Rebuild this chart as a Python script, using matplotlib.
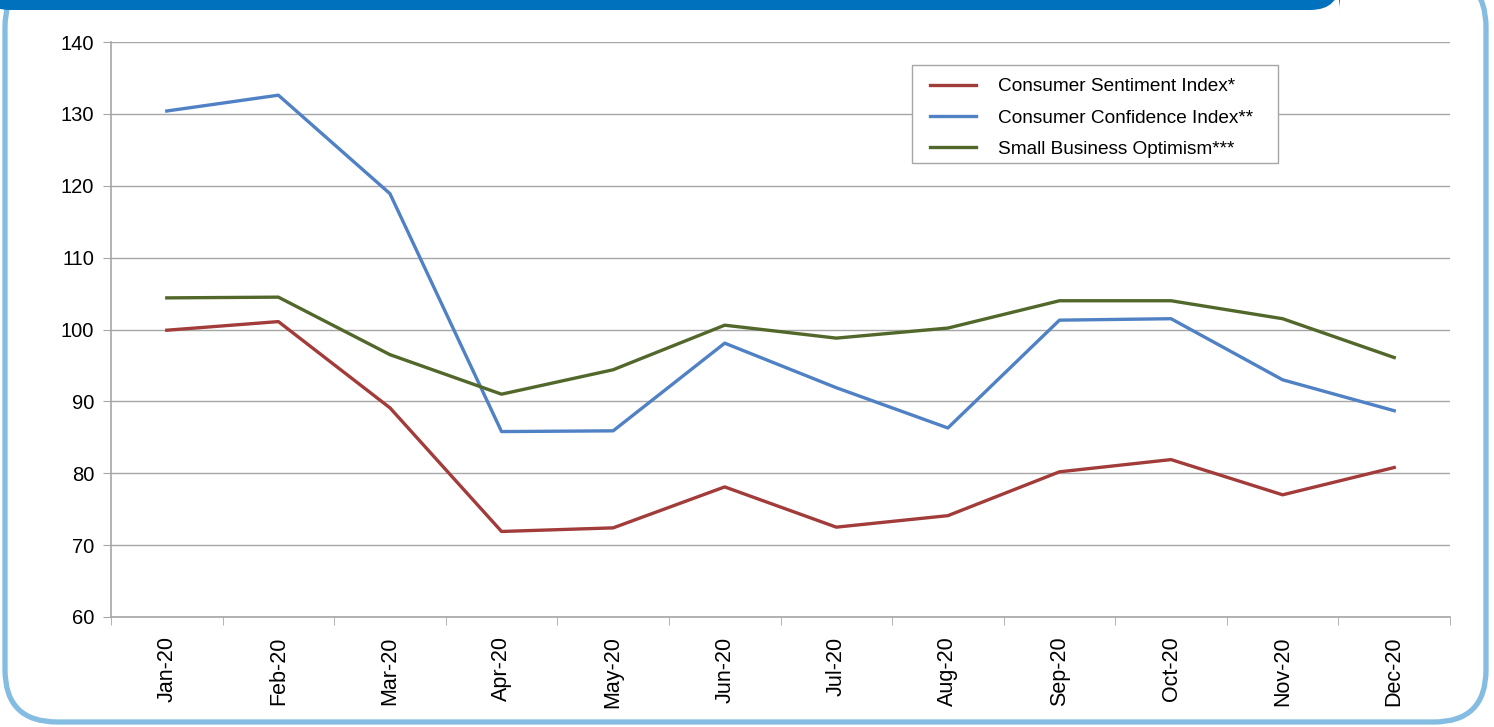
import numpy as np
import matplotlib
matplotlib.use("Agg")
import matplotlib.pyplot as plt
from matplotlib.patches import FancyBboxPatch, Rectangle

plt.rcParams['font.family'] = ['Liberation Sans', 'DejaVu Sans']

months = ['Jan-20', 'Feb-20', 'Mar-20', 'Apr-20', 'May-20', 'Jun-20',
          'Jul-20', 'Aug-20', 'Sep-20', 'Oct-20', 'Nov-20', 'Dec-20']
sentiment = [99.9, 101.1, 89.1, 71.9, 72.4, 78.1, 72.5, 74.1, 80.2, 81.9, 77.0, 80.8]
confidence = [130.4, 132.6, 118.9, 85.8, 85.9, 98.1, 91.9, 86.3, 101.3, 101.5, 93.0, 88.7]
optimism = [104.4, 104.5, 96.5, 91.0, 94.4, 100.6, 98.8, 100.2, 104.0, 104.0, 101.5, 96.1]

W, H = 1494, 727
fig = plt.figure(figsize=(W / 100, H / 100), dpi=100)

# decorative frame (top edge runs off the image, like the cropped original)
border = FancyBboxPatch((5 / W, 5 / H), (W - 10 - 3) / W, (H + 20) / H,
                        boxstyle="round,pad=0,rounding_size=0.035",
                        transform=fig.transFigure, fc='white', ec='#85BCE2',
                        lw=3.8, mutation_aspect=W / H, zorder=-10)
fig.patches.append(border)
header = FancyBboxPatch((-20 / W, (H - 10) / H), (1360 / W), 30 / H,
                        boxstyle="round,pad=0,rounding_size=0.02",
                        transform=fig.transFigure, fc='#0071BC', ec='none',
                        mutation_aspect=W / H, zorder=-5)
fig.patches.append(header)

ax = fig.add_axes([111 / W, (H - 617) / H, (1450 - 111) / W, (617 - 42) / H])
ax.set_facecolor('none')

x = np.arange(len(months))
ax.plot(x, sentiment, color='#A23C3A', lw=2.4, label='Consumer Sentiment Index*')
ax.plot(x, confidence, color='#4F81C4', lw=2.4, label='Consumer Confidence Index**')
ax.plot(x, optimism, color='#52672A', lw=2.4, label='Small Business Optimism***')

ax.set_xlim(-0.5, len(months) - 0.5)
ax.set_ylim(60, 140)
ax.set_yticks(range(60, 141, 10))
ax.set_xticks(x)
ax.set_xticklabels(months, rotation=90, fontsize=15.5)
ax.set_xticks(np.arange(-0.5, len(months)), minor=True)
ax.tick_params(axis='x', which='major', length=0, pad=14)
ax.tick_params(axis='x', which='minor', length=6, color='#A6A6A6', direction='out')
ax.tick_params(axis='y', length=6, color='#A6A6A6', labelsize=14.5, pad=6)

ax.yaxis.grid(True, color='#A6A6A6', lw=1)
ax.set_axisbelow(True)
for s in ['top', 'right']:
    ax.spines[s].set_visible(False)
for s in ['left', 'bottom']:
    ax.spines[s].set_color('#A6A6A6')
    ax.spines[s].set_linewidth(1.2)

# legend box drawn separately so padding can match the original
fig.patches.append(Rectangle((912 / W, (H - 163) / H), (1278 - 912) / W, (163 - 65) / H,
                             transform=fig.transFigure, fc='white', ec='#A6A6A6',
                             lw=1.0, zorder=5))
leg = fig.legend(*ax.get_legend_handles_labels(), loc='upper left',
                 bbox_to_anchor=(930 / W, 1 - 78 / H), borderaxespad=0, borderpad=0,
                 fontsize=13.7, frameon=False,
                 handlelength=2.4, handletextpad=1.15, labelspacing=0.74)
leg.set_zorder(6)

fig.savefig('out.png', dpi=100)
